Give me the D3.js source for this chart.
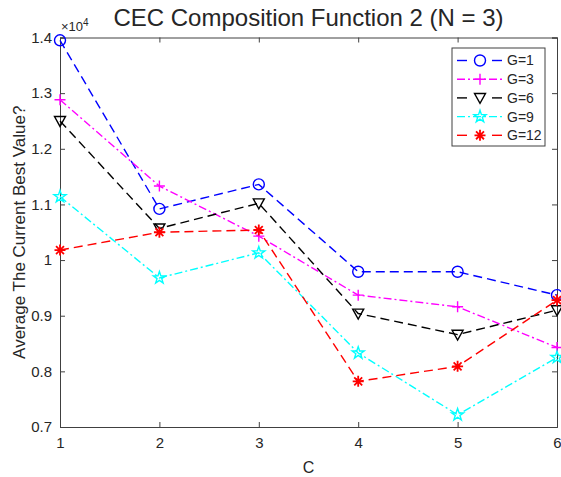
<!DOCTYPE html>
<html>
<head>
<meta charset="utf-8">
<script src="https://cdn.jsdelivr.net/npm/d3@7"></script>
<style>
  body { margin: 0; background: #fff; }
  text { font-family: "Liberation Sans", Arial, sans-serif; fill: #262626; }
</style>
</head>
<body>
<svg width="561" height="477"></svg>
<script>
const titleText = 'CEC Composition Function 2 (N = 3)';

// x categories
const cValues = [1, 2, 3, 4, 5, 6];
const xTicks = [1, 2, 3, 4, 5, 6];
const yTicks = [0.7, 0.8, 0.9, 1.0, 1.1, 1.2, 1.3, 1.4];

// series values (x10^4)
const g1 = [1.395, 1.092, 1.136, 0.979, 0.979, 0.937];
const g3 = [1.288, 1.133, 1.043, 0.937, 0.916, 0.843];
const g6 = [1.250, 1.057, 1.102, 0.904, 0.866, 0.910];
const g9 = [1.114, 0.968, 1.013, 0.833, 0.722, 0.825];
const g12 = [1.018, 1.050, 1.054, 0.782, 0.809, 0.928];

const seriesNames = ['G=1', 'G=3', 'G=6', 'G=9', 'G=12'];

const dashed = '9,5';
const dashDot = '8,3,2,3';

const series = [
    { name: seriesNames[0], values: g1, color: '#0000ff', dash: dashed, marker: 'circle' },
    { name: seriesNames[1], values: g3, color: '#ff00ff', dash: dashDot, marker: 'plus' },
    { name: seriesNames[2], values: g6, color: '#000000', dash: dashed, marker: 'triangleDown' },
    { name: seriesNames[3], values: g9, color: '#00ffff', dash: dashDot, marker: 'pentagram' },
    { name: seriesNames[4], values: g12, color: '#ff0000', dash: dashed, marker: 'asterisk' }
];

const svg = d3.select('svg');

const margin = { top: 37.5, right: 4, bottom: 50, left: 60 };
const width = +svg.attr('width');
const height = +svg.attr('height');
const innerWidth = width - margin.left - margin.right;
const innerHeight = height - margin.top - margin.bottom;

const xScale = d3.scaleLinear().domain([1, 6]).range([0, innerWidth]);
const yScale = d3.scaleLinear().domain([0.7, 1.4]).range([innerHeight, 0]);

const g = svg.append('g')
    .attr('transform', `translate(${margin.left},${margin.top})`);

// marker paths
function markerPath(type, r) {
    if (type === 'circle') {
        return `M${r},0A${r},${r} 0 1,1 ${-r},0A${r},${r} 0 1,1 ${r},0Z`;
    }
    if (type === 'plus') {
        return `M${-r},0L${r},0M0,${-r}L0,${r}`;
    }
    if (type === 'triangleDown') {
        return `M${-r},${-r * 0.8}L${r},${-r * 0.8}L0,${r}Z`;
    }
    if (type === 'asterisk') {
        const d = r * 0.72;
        return `M${-r},0L${r},0M0,${-r}L0,${r}M${-d},${-d}L${d},${d}M${-d},${d}L${d},${-d}`;
    }
    if (type === 'pentagram') {
        let p = '';
        for (let i = 0; i < 10; i++) {
            const a = -Math.PI / 2 + i * Math.PI / 5;
            const rr = i % 2 === 0 ? r * 1.15 : r * 0.45;
            p += (i === 0 ? 'M' : 'L') + (rr * Math.cos(a)).toFixed(2) + ',' + (rr * Math.sin(a)).toFixed(2);
        }
        return p + 'Z';
    }
}

// axes (box with inward ticks on all sides)
const axisColor = '#404040';

const xAxisBottom = d3.axisBottom(xScale).tickValues(xTicks).tickSize(-5).tickPadding(10)
    .tickFormat(d3.format('d'));
const xAxisTop = d3.axisTop(xScale).tickValues(xTicks).tickSize(-5).tickFormat('');
const yAxisLeft = d3.axisLeft(yScale).tickValues(yTicks).tickSize(-5).tickPadding(8)
    .tickFormat(d => d === 1 ? '1' : d3.format('.1f')(d));
const yAxisRight = d3.axisRight(yScale).tickValues(yTicks).tickSize(-5).tickFormat('');

const styleAxis = sel => {
    sel.selectAll('.domain').attr('stroke', axisColor).attr('stroke-width', 1);
    sel.selectAll('.tick line').attr('stroke', axisColor);
    sel.selectAll('.tick text')
        .attr('font-size', 15)
        .attr('font-family', '"Liberation Sans", Arial, sans-serif')
        .attr('fill', '#262626');
};

g.append('g').attr('transform', `translate(0,${innerHeight})`).call(xAxisBottom).call(styleAxis);
g.append('g').call(xAxisTop).call(styleAxis);
g.append('g').call(yAxisLeft).call(styleAxis);
g.append('g').attr('transform', `translate(${innerWidth},0)`).call(yAxisRight).call(styleAxis);

// exponent label
const expLabel = g.append('text')
    .attr('x', 1)
    .attr('y', -7)
    .attr('font-size', 13);
expLabel.append('tspan').text('\u00d710');
expLabel.append('tspan').attr('dy', -5).attr('font-size', 10).text('4');

// lines
const lineGenerator = d3.line()
    .x((d, i) => xScale(cValues[i]))
    .y(d => yScale(d));

series.forEach(s => {
    g.append('path')
        .attr('d', lineGenerator(s.values))
        .attr('fill', 'none')
        .attr('stroke', s.color)
        .attr('stroke-width', 1.4)
        .attr('stroke-dasharray', s.dash);

    g.selectAll(null)
        .data(s.values)
        .enter()
        .append('path')
        .attr('transform', (d, i) => `translate(${xScale(cValues[i])},${yScale(d)})`)
        .attr('d', markerPath(s.marker, 5.5))
        .attr('fill', 'none')
        .attr('stroke', s.color)
        .attr('stroke-width', s.marker === 'asterisk' ? 1.8 : 1.4);
});

// legend
const legend = g.append('g').attr('transform', `translate(${452 - margin.left},${48 - margin.top})`);
legend.append('rect')
    .attr('width', 93)
    .attr('height', 98)
    .attr('fill', '#fff')
    .attr('stroke', axisColor)
    .attr('stroke-width', 1);

series.forEach((s, i) => {
    const row = legend.append('g').attr('transform', `translate(0,${12.5 + i * 18.7})`);
    const isDashed = s.dash === dashed;
    const segs = isDashed ? [[5, 15], [40, 50]] : [[5, 50]];
    segs.forEach(([a, b]) => {
        row.append('line')
            .attr('x1', a).attr('x2', b)
            .attr('stroke', s.color)
            .attr('stroke-width', 1.4)
            .attr('stroke-dasharray', isDashed ? null : dashDot);
    });
    row.append('path')
        .attr('transform', 'translate(28,0)')
        .attr('d', markerPath(s.marker, 5.5))
        .attr('fill', 'none')
        .attr('stroke', s.color)
        .attr('stroke-width', s.marker === 'asterisk' ? 1.8 : 1.4);
    row.append('text')
        .attr('x', 55)
        .attr('dy', '0.35em')
        .attr('font-size', 14)
        .text(s.name);
});

// title and axis labels
svg.append('text')
    .attr('x', margin.left + innerWidth / 2)
    .attr('y', 26)
    .attr('text-anchor', 'middle')
    .attr('font-size', 24)
    .attr('fill', '#000')
    .text(titleText);

svg.append('text')
    .attr('x', margin.left + innerWidth / 2)
    .attr('y', 473)
    .attr('text-anchor', 'middle')
    .attr('font-size', 16)
    .text('C');

svg.append('text')
    .attr('transform', `translate(25,${margin.top + innerHeight / 2}) rotate(-90)`)
    .attr('text-anchor', 'middle')
    .attr('font-size', 17)
    .text('Average The Current Best Value?');
</script>
</body>
</html>
